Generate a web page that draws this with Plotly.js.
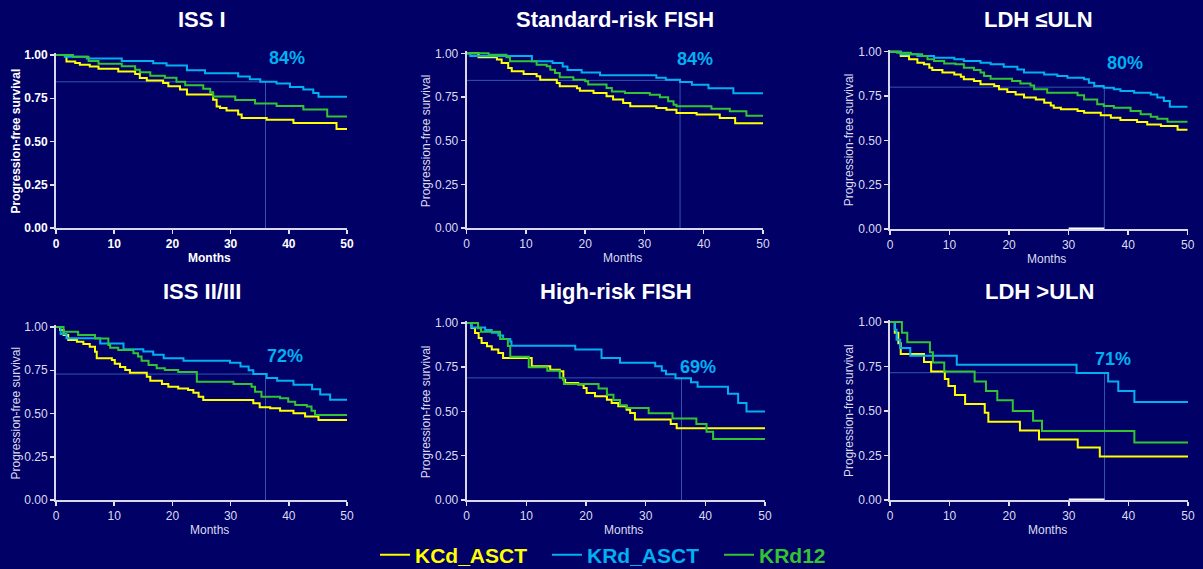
<!DOCTYPE html>
<html><head><meta charset="utf-8">
<script src="https://cdn.plot.ly/plotly-3.0.1.min.js"></script>
<style>html,body{margin:0;padding:0;background:#000066;overflow:hidden;} #chart{width:1203px;height:569px;}</style>
</head><body><div id="chart"></div>
<script>
// ---------- DATA ----------
const panelTitles = ['ISS I', 'Standard-risk FISH', 'LDH ≤ULN', 'ISS II/III', 'High-risk FISH', 'LDH >ULN'];
const seriesNames = ['KCd_ASCT', 'KRd_ASCT', 'KRd12'];
const xTicks = [0, 10, 20, 30, 40, 50];
const yTicks = [0, 0.25, 0.5, 0.75, 1];
const landmarkMonth = 36;
const landmarkSurv = [0.845, 0.845, 0.80, 0.728, 0.69, 0.715];
const landmarkLabel = ['84%', '84%', '80%', '72%', '69%', '71%'];
const axisHighlight = [30, 36];

// ISS I
const issI_kcd_t = [0,1.8,3.3,4.1,5.8,7.3,10.7,13.6,14.4,15.6,18.4,19.3,21.3,22.5,27,27.6,28.2,29.3,31.3,31.9,36.2,40.8,48.2,50];
const issI_kcd_s = [1,0.963,0.954,0.944,0.934,0.92,0.905,0.89,0.867,0.852,0.838,0.819,0.8,0.771,0.742,0.703,0.694,0.679,0.656,0.636,0.626,0.607,0.572,0.572];
const issI_krd_t = [0,1.5,5.3,11.3,16.7,19,22.5,25.6,31.3,33.3,35.1,37.9,40.2,42.5,44.2,45.1,50];
const issI_krd_s = [1,0.99,0.98,0.965,0.952,0.94,0.912,0.895,0.875,0.86,0.845,0.835,0.815,0.8,0.78,0.758,0.758];
const issI_k12_t = [0,2.9,5.6,7.3,11.3,13.6,14.4,16.2,18.7,20.7,22.2,25.3,26.5,27,30.8,34.2,37.9,42.5,46.6,50];
const issI_k12_s = [1,0.99,0.965,0.95,0.935,0.915,0.9,0.88,0.868,0.845,0.825,0.805,0.785,0.76,0.74,0.72,0.705,0.685,0.645,0.645];

// Standard-risk FISH
const srf_kcd_t = [0,2,5.1,5.9,7,7.6,9.6,11.8,12.4,15.2,15.7,18.6,19.1,21.4,23.6,24.7,26.4,27.6,32,33.7,35.4,38.8,42.7,45.3,50];
const srf_kcd_s = [1,0.977,0.964,0.945,0.916,0.897,0.882,0.868,0.849,0.83,0.811,0.8,0.786,0.773,0.754,0.735,0.716,0.697,0.687,0.677,0.658,0.649,0.63,0.6,0.6];
const srf_krd_t = [0,0.6,11,14.5,16.2,17,19.4,22.5,32,33.6,36,38,40.8,45,50];
const srf_krd_s = [1,0.985,0.955,0.945,0.925,0.905,0.89,0.875,0.86,0.848,0.835,0.82,0.8,0.772,0.772];
const srf_k12_t = [0,3.7,6.7,7.3,11.8,13.5,14.1,14.9,15.7,18,20,20.5,23.6,24.5,26.7,30.9,32.6,34,34.9,35.4,41.3,44.4,47.2,50];
const srf_k12_s = [1,0.992,0.977,0.954,0.935,0.926,0.906,0.887,0.863,0.849,0.84,0.821,0.802,0.782,0.773,0.763,0.748,0.725,0.706,0.697,0.683,0.668,0.642,0.642];

// LDH <= ULN
const ldhN_kcd_t = [0,1.8,3.2,4.6,5.7,6.6,7.1,8.8,10.8,11.9,12.4,14.1,15.2,17.5,18.3,19.7,21.1,22.5,24.5,25.9,27,27.5,28.7,31.5,32.6,35.4,37.1,38.7,41.5,43.2,45.5,48.3,50];
const ldhN_kcd_s = [1,0.976,0.957,0.938,0.929,0.91,0.897,0.882,0.872,0.859,0.844,0.835,0.816,0.806,0.788,0.773,0.759,0.741,0.731,0.712,0.697,0.684,0.675,0.665,0.656,0.641,0.628,0.615,0.603,0.59,0.581,0.56,0.56];
const ldhN_krd_t = [0,1.8,4.6,7.4,10.8,12.4,15.2,16.9,19.1,21.4,22.5,25.9,28.1,29.8,32.6,33.4,34.3,35.9,37.6,38.7,41,43.8,44.9,46,47,50];
const ldhN_krd_s = [1,0.985,0.976,0.966,0.957,0.947,0.938,0.929,0.915,0.9,0.882,0.872,0.863,0.853,0.844,0.825,0.806,0.797,0.788,0.778,0.769,0.759,0.741,0.722,0.69,0.69];
const ldhN_k12_t = [0,1.2,3.5,5.4,6.3,7.4,9.1,11,12.4,14.1,15.2,15.8,16.9,20.5,21.9,23.6,24.2,26.4,31.5,32.6,34.8,35.9,37.6,40.4,42.1,43.8,44.9,46.6,50];
const ldhN_k12_s = [1,0.994,0.985,0.976,0.957,0.947,0.934,0.929,0.91,0.897,0.882,0.863,0.848,0.835,0.821,0.81,0.788,0.769,0.754,0.731,0.703,0.694,0.684,0.665,0.647,0.633,0.622,0.605,0.605];

// ISS II/III
const iss23_kcd_t = [0,0.7,1.3,2.1,3.6,4.7,5.8,6.7,7,9.6,10.1,11,11.9,12.7,15.6,16.2,18.2,19.3,21,22.7,23.6,24.5,25.3,33.9,35,36.8,38.5,40.8,42.8,45.1,50];
const iss23_kcd_s = [1,0.983,0.954,0.925,0.915,0.902,0.886,0.857,0.819,0.809,0.788,0.769,0.751,0.736,0.713,0.69,0.671,0.655,0.645,0.636,0.62,0.597,0.578,0.559,0.536,0.53,0.516,0.501,0.482,0.462,0.462];
const iss23_krd_t = [0,0.8,1.8,7.6,11.6,15,16.7,18.5,21.9,29.9,31.7,33.1,33.9,36.2,38,40.8,44,45.4,47.1,50];
const iss23_krd_s = [1,0.96,0.935,0.905,0.872,0.859,0.84,0.82,0.805,0.793,0.772,0.75,0.728,0.705,0.69,0.666,0.64,0.61,0.58,0.58];
const iss23_k12_t = [0,1.3,3.8,6.7,9,9.3,10.7,13.3,14.1,14.7,15.9,17.3,18.7,21,24.2,30.5,33.6,34.2,35.3,38.5,39.9,41.1,43.1,43.9,44.5,50];
const iss23_k12_s = [1,0.973,0.954,0.934,0.896,0.88,0.867,0.848,0.829,0.805,0.78,0.761,0.751,0.74,0.684,0.671,0.655,0.626,0.597,0.588,0.568,0.549,0.54,0.516,0.491,0.491];

// High-risk FISH
const hrf_kcd_t = [0,0.8,1.4,2,2.5,3.4,4.2,5.3,6.1,10.9,14,15.6,16.2,16.5,18.7,19.6,20.1,21.5,23.5,24.3,25.4,26.8,27.4,28.2,34.2,35.2,50];
const hrf_kcd_s = [1,0.972,0.943,0.915,0.887,0.868,0.85,0.83,0.802,0.755,0.736,0.727,0.68,0.661,0.652,0.633,0.605,0.586,0.567,0.548,0.529,0.51,0.492,0.455,0.43,0.405,0.405];
const hrf_krd_t = [0,0.8,3.1,4.2,5.3,6.1,7.3,7.5,18.2,22.6,25.7,31.6,32.7,33.4,35,37.6,38.7,43.8,45.5,46.9,50];
const hrf_krd_s = [1,0.975,0.96,0.945,0.93,0.91,0.895,0.872,0.85,0.802,0.775,0.755,0.73,0.71,0.688,0.665,0.64,0.6,0.548,0.5,0.5];
const hrf_k12_t = [0,1.9,2.4,5.6,6.9,7.3,10.4,13.5,15.6,16.3,22.1,23.5,24.6,25.7,26.8,30.5,34.5,38.5,40.2,41.3,50];
const hrf_k12_s = [1,0.97,0.95,0.91,0.87,0.81,0.75,0.73,0.69,0.655,0.63,0.595,0.565,0.535,0.52,0.49,0.46,0.43,0.385,0.345,0.345];

// LDH > ULN
const ldhH_kcd_t = [0,0.8,1.4,1.8,5.7,6.9,9.2,9.8,10.9,12.6,15.9,16.5,21.8,25,31.5,35.2,50];
const ldhH_kcd_s = [1,0.94,0.88,0.82,0.775,0.722,0.68,0.64,0.59,0.54,0.49,0.44,0.39,0.34,0.295,0.245,0.245];
const ldhH_krd_t = [0,0.8,1.1,1.7,3.4,11.2,31.3,36.6,38.3,41,50];
const ldhH_krd_s = [1,0.957,0.9,0.854,0.81,0.76,0.713,0.666,0.613,0.55,0.55];
const ldhH_k12_t = [0,2,2.9,6.7,7.2,9.1,14.2,16.1,18,20.6,24,25.5,41,50];
const ldhH_k12_s = [1,0.94,0.886,0.83,0.773,0.722,0.666,0.613,0.56,0.5,0.445,0.388,0.323,0.323];

// ---------- ASSEMBLY ----------
const panelData = [
  [[issI_kcd_t, issI_kcd_s], [issI_krd_t, issI_krd_s], [issI_k12_t, issI_k12_s]],
  [[srf_kcd_t, srf_kcd_s], [srf_krd_t, srf_krd_s], [srf_k12_t, srf_k12_s]],
  [[ldhN_kcd_t, ldhN_kcd_s], [ldhN_krd_t, ldhN_krd_s], [ldhN_k12_t, ldhN_k12_s]],
  [[iss23_kcd_t, iss23_kcd_s], [iss23_krd_t, iss23_krd_s], [iss23_k12_t, iss23_k12_s]],
  [[hrf_kcd_t, hrf_kcd_s], [hrf_krd_t, hrf_krd_s], [hrf_k12_t, hrf_k12_s]],
  [[ldhH_kcd_t, ldhH_kcd_s], [ldhH_krd_t, ldhH_krd_s], [ldhH_k12_t, ldhH_k12_s]]
];

const W = 1203, H = 569;
const BG = '#000066';
const colors = ['#ffff00', '#00b0f0', '#33c433'];
const FONT = 'Liberation Sans, Arial, Helvetica, sans-serif';
const refColor = 'rgba(60,100,190,0.85)';

// pixel boxes: [x0, x50, yTop(1.0), yBottom(0.0)]
const boxes = [
  [56, 347, 55, 228],
  [466.7, 763, 53.3, 228],
  [890, 1187.7, 51.7, 229],
  [56, 347, 327, 500],
  [466.7, 765, 323, 500],
  [890, 1188, 322, 500]
];
const titleY = [20, 20, 20, 291, 291, 291];
const pctPos = [[39.7, 0.98], [38.5, 0.967], [39.5, 0.935], [39.3, 0.83], [38.8, 0.753], [37.4, 0.79]];
const highlightPanels = [2, 5];
const YMAX = 1.012;

const traces = [];
const layout = {
  width: W, height: H,
  margin: {l: 0, r: 0, t: 0, b: 0, autoexpand: false},
  paper_bgcolor: BG, plot_bgcolor: BG,
  showlegend: true,
  legend: {
    orientation: 'h', x: 375 / W, xanchor: 'left', y: 1 - 555 / H, yanchor: 'middle',
    font: {family: FONT, size: 21, color: '#ffffff', weight: 'bold'},
    bgcolor: 'rgba(0,0,0,0)', itemwidth: 30, traceorder: 'normal',
    entrywidth: 127, entrywidthmode: 'pixels'
  },
  shapes: [], annotations: []
};

panelData.forEach((series, p) => {
  const [bx0, bx1, byT, byB] = boxes[p];
  const span = byB - byT;
  const xr = 'x' + (p ? p + 1 : '');
  const yr = 'y' + (p ? p + 1 : '');
  const xa = 'xaxis' + (p ? p + 1 : '');
  const ya = 'yaxis' + (p ? p + 1 : '');
  const bold = p === 0;
  const tickColor = bold ? '#ffffff' : '#dcdcee';
  const tf = {family: FONT, size: 12, color: tickColor, weight: bold ? 'bold' : 'normal'};

  layout[xa] = {
    domain: [bx0 / W, bx1 / W], anchor: yr, range: [0, 50],
    tickvals: xTicks, ticks: 'outside', ticklen: 4, tickwidth: 1.5, tickcolor: '#e0e0f0',
    showline: true, linecolor: '#d8d8e8', linewidth: 2, showgrid: false, zeroline: false,
    tickfont: tf, fixedrange: true
  };
  layout[ya] = {
    domain: [1 - byB / H, 1 - (byT - (YMAX - 1) * span) / H], anchor: xr, range: [0, YMAX],
    tickvals: yTicks, tickformat: '.2f', ticks: 'outside', ticklen: 4, tickwidth: 1.5, tickcolor: '#e0e0f0',
    showline: true, linecolor: '#d8d8e8', linewidth: 2, showgrid: false, zeroline: false,
    tickfont: tf, fixedrange: true
  };

  const L = landmarkSurv[p];
  layout.shapes.push({type: 'line', xref: xr, yref: yr, x0: 0, x1: landmarkMonth, y0: L, y1: L,
    line: {color: refColor, width: 1}, layer: 'below'});
  layout.shapes.push({type: 'line', xref: xr, yref: yr, x0: landmarkMonth, x1: landmarkMonth, y0: 0, y1: L,
    line: {color: refColor, width: 1}, layer: 'below'});
  if (highlightPanels.includes(p)) {
    layout.shapes.push({type: 'line', xref: xr, yref: yr, x0: axisHighlight[0], x1: axisHighlight[1], y0: 0, y1: 0,
      line: {color: '#ffffff', width: 3}, layer: 'above'});
  }

  series.forEach(([t, s], k) => {
    traces.push({
      x: t, y: s, type: 'scatter', mode: 'lines',
      line: {shape: 'hv', color: colors[k], width: 2},
      xaxis: xr, yaxis: yr,
      name: '<span style="color:' + colors[k] + '"><b>' + seriesNames[k] + '</b></span>',
      legendgroup: seriesNames[k], showlegend: p === 0, hoverinfo: 'skip'
    });
  });

  layout.annotations.push({xref: 'paper', yref: 'paper', x: (bx0 + bx1) / 2 / W, y: 1 - titleY[p] / H,
    xanchor: 'center', yanchor: 'middle', showarrow: false, text: '<b>' + panelTitles[p] + '</b>',
    font: {family: FONT, size: 22, color: '#ffffff'}});
  layout.annotations.push({xref: 'paper', yref: 'paper', x: (bx0 - 41) / W, y: 1 - (byT + byB) / 2 / H,
    xanchor: 'center', yanchor: 'middle', showarrow: false, textangle: -90,
    text: bold ? '<b>Progression-free survival</b>' : 'Progression-free survival',
    font: {family: FONT, size: 12, color: tickColor}});
  layout.annotations.push({xref: 'paper', yref: 'paper', x: ((bx0 + bx1) / 2 + 8) / W, y: 1 - (byB + 30) / H,
    xanchor: 'center', yanchor: 'middle', showarrow: false,
    text: bold ? '<b>Months</b>' : 'Months',
    font: {family: FONT, size: 12, color: tickColor}});
  layout.annotations.push({xref: xr, yref: yr, x: pctPos[p][0], y: pctPos[p][1],
    xanchor: 'center', yanchor: 'middle', showarrow: false, text: '<b>' + landmarkLabel[p] + '</b>',
    font: {family: FONT, size: 18, color: colors[1]}});
});

Plotly.newPlot('chart', traces, layout, {displayModeBar: false, staticPlot: true});
</script></body></html>
